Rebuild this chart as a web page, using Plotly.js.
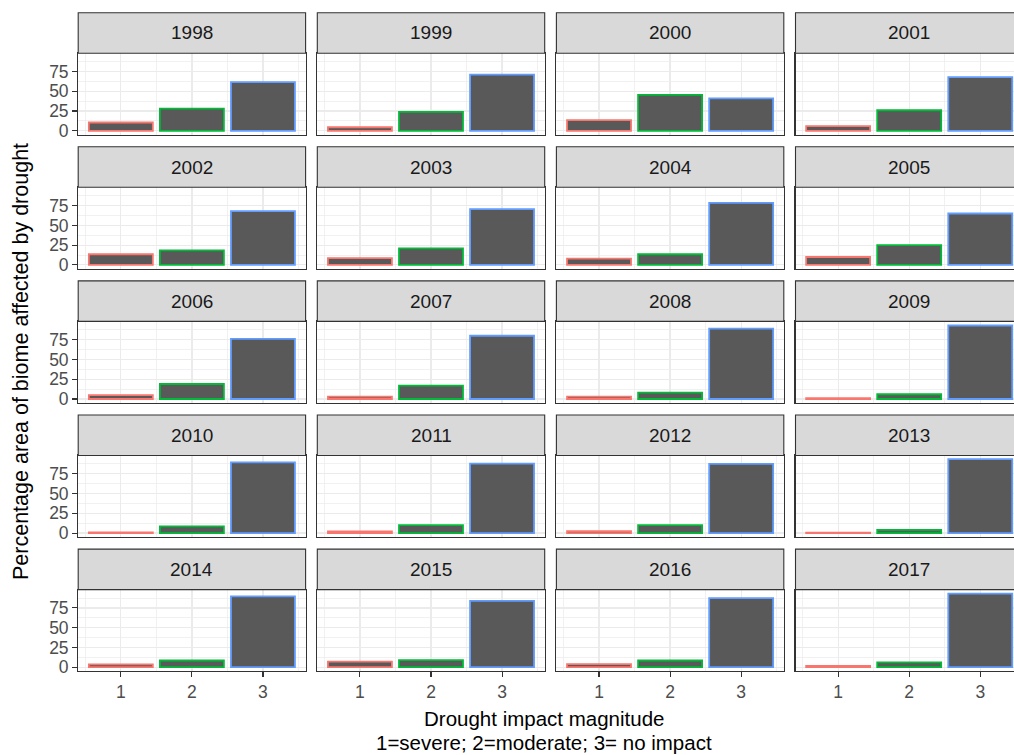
<!DOCTYPE html>
<html>
<head>
<meta charset="utf-8">
<script src="https://cdn.plot.ly/plotly-3.0.1.min.js"></script>
<style>
html,body{margin:0;padding:0;overflow:hidden;background:#fff;}
#chart{width:1040px;height:755px;}
</style>
</head>
<body>
<div id="chart"></div>
<script>
// ---- data ----
const years = ['1998','1999','2000','2001','2002','2003','2004','2005','2006','2007',
               '2008','2009','2010','2011','2012','2013','2014','2015','2016','2017'];
const categories = [1, 2, 3];
const tickLabels = ['1', '2', '3'];
const severe   = [10.5, 4.5, 13.5, 6, 13.5, 8.5, 8, 10, 5, 3, 3, 1, 0.8, 2, 2.5, 0.5, 3.5, 7, 4, 1.5];
const moderate = [28, 24, 45.5, 26, 18.5, 21, 13.5, 25, 19, 17, 8, 6, 8.5, 10, 10, 4, 8.5, 9, 8.5, 6];
const noImpact = [61.5, 71, 41, 68, 68, 70.5, 78.5, 65, 76, 80, 89, 93, 89.5, 88, 87.5, 93.5, 89.5, 84, 87.5, 93];
const yTicks = [0, 25, 50, 75];
const xTitleLines = ['Drought impact magnitude', '1=severe; 2=moderate; 3= no impact'];
const yTitle = 'Percentage area of biome affected by drought';

// ---- styling / geometry ----
const W = 1040, H = 755;
const outline = ['#F8766D', '#00BA38', '#619CFF'];
const fill = '#595959';
const nCols = 4, nRows = 5;
const colLeft0 = 78.2, colPitch = 239.1, panelW = 227.4;
const rowTop0 = 12.7, rowPitch = 134.1, stripH = 40.5, plotH = 81.3;
const font = 'Liberation Sans, Arial, sans-serif';

const allVals = severe.concat(moderate, noImpact);
const ymax = Math.max(...allVals);
const yRange = [-0.05 * ymax, 1.05 * ymax];

const px = x => x / W;
const py = y => 1 - y / H;

const data = [];
const layout = {
  width: W, height: H,
  margin: {l: 0, r: 0, t: 0, b: 0},
  paper_bgcolor: '#ffffff', plot_bgcolor: '#ffffff',
  showlegend: false,
  font: {family: font},
  shapes: [], annotations: [],
  bargap: 0
};

years.forEach((yr, i) => {
  const r = Math.floor(i / nCols), c = i % nCols;
  const k = i + 1;
  const xa = 'x' + (k === 1 ? '' : k), ya = 'y' + (k === 1 ? '' : k);
  const left = colLeft0 + c * colPitch, right = left + panelW;
  const top = rowTop0 + r * rowPitch, stripBot = top + stripH, bot = stripBot + plotH;

  data.push({
    type: 'bar', x: categories, y: [severe[i], moderate[i], noImpact[i]],
    width: 0.9, xaxis: xa, yaxis: ya,
    marker: {color: fill, line: {color: outline, width: 1.8}},
    hoverinfo: 'x+y'
  });

  const isLeft = c === 0, isBottom = r === nRows - 1;
  layout['xaxis' + (k === 1 ? '' : k)] = {
    domain: [px(left), px(right)], anchor: ya,
    range: [0.4, 3.6], tickmode: 'array', tickvals: categories, ticktext: tickLabels,
    showticklabels: isBottom, ticks: isBottom ? 'outside' : '', ticklen: 5, tickwidth: 1.1, tickcolor: '#333333',
    tickfont: {size: 17.5, color: '#4D4D4D', family: font},
    showgrid: true, gridcolor: '#EBEBEB', gridwidth: 1.2,
    minor: {tickmode: 'array', tickvals: [0.5, 1.5, 2.5, 3.5], showgrid: true, gridcolor: '#EBEBEB', gridwidth: 0.7, ticks: ''},
    zeroline: false, showline: true, mirror: true, linecolor: '#333333', linewidth: 1.1,
    fixedrange: true
  };
  layout['yaxis' + (k === 1 ? '' : k)] = {
    domain: [py(bot), py(stripBot)], anchor: xa,
    range: yRange, tickmode: 'array', tickvals: yTicks,
    showticklabels: isLeft, ticks: isLeft ? 'outside' : '', ticklen: 5, tickwidth: 1.1, tickcolor: '#333333',
    tickfont: {size: 17.5, color: '#4D4D4D', family: font},
    showgrid: true, gridcolor: '#EBEBEB', gridwidth: 1.2,
    minor: {tickmode: 'array', tickvals: [12.5, 37.5, 62.5, 87.5], showgrid: true, gridcolor: '#EBEBEB', gridwidth: 0.7, ticks: ''},
    zeroline: false, showline: true, mirror: true, linecolor: '#333333', linewidth: 1.1,
    fixedrange: true
  };

  layout.shapes.push({
    type: 'rect', xref: 'paper', yref: 'paper',
    x0: px(left), x1: px(right), y0: py(stripBot), y1: py(top),
    fillcolor: '#D9D9D9', line: {color: '#333333', width: 1.1}, layer: 'above'
  });
  layout.annotations.push({
    xref: 'paper', yref: 'paper', x: px((left + right) / 2), y: py((top + stripBot) / 2),
    xanchor: 'center', yanchor: 'middle', showarrow: false,
    text: yr, font: {size: 19, color: '#1A1A1A', family: font}
  });
});

xTitleLines.forEach((t, j) => {
  layout.annotations.push({
    xref: 'paper', yref: 'paper', x: px(544), y: py(718 + j * 24), xanchor: 'center', yanchor: 'middle',
    showarrow: false, borderpad: 0, text: t, font: {size: 20.5, color: '#000000', family: font}
  });
});
layout.annotations.push({
  xref: 'paper', yref: 'paper', x: px(21), y: py(362),
  xanchor: 'center', yanchor: 'middle', textangle: -90,
  showarrow: false, text: yTitle, font: {size: 21.5, color: '#000000', family: font}
});

Plotly.newPlot('chart', data, layout, {displayModeBar: false, staticPlot: true});
</script>
</body>
</html>
